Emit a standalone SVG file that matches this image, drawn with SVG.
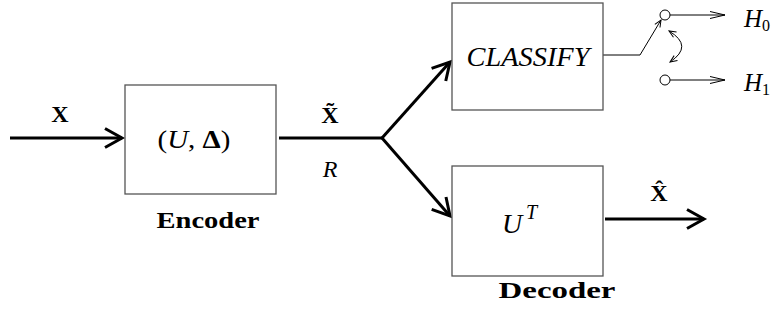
<svg xmlns="http://www.w3.org/2000/svg" width="777" height="320" viewBox="0 0 777 320">
<style>
.box{fill:#fff;stroke:#555;stroke-width:1.3}
.thick{stroke:#000;stroke-width:3;fill:none}
.thin{stroke:#000;stroke-width:1;fill:none}
text{font-family:"Liberation Serif","DejaVu Serif",serif;fill:#000}
.b{font-weight:bold}
.i{font-style:italic}
</style>
<defs>
<marker id="big" markerUnits="userSpaceOnUse" viewBox="-20 -12 24 24" markerWidth="24" markerHeight="24" refX="0" refY="0" orient="auto">
<path d="M-17 -9.5 L0 0 L-17 9.5" fill="none" stroke="#000" stroke-width="3"/>
</marker>
<marker id="long" markerUnits="userSpaceOnUse" viewBox="-18 -6 20 12" markerWidth="20" markerHeight="12" refX="0" refY="0" orient="auto">
<path d="M-15 -3.5 L0 0 L-15 3.5" fill="none" stroke="#000" stroke-width="1"/>
</marker>
<marker id="small" markerUnits="userSpaceOnUse" viewBox="-10 -6 12 12" markerWidth="12" markerHeight="12" refX="0" refY="0" orient="auto-start-reverse">
<path d="M-7 -3 L0 0 L-7 3" fill="none" stroke="#000" stroke-width="1"/>
</marker>
</defs>

<g id="connectors">
<line class="thick" x1="10" y1="138" x2="122" y2="138" marker-end="url(#big)"/>
<polyline class="thick" points="279,138 382,138"/>
<line class="thick" x1="382" y1="138" x2="450" y2="62" marker-end="url(#big)"/>
<line class="thick" x1="382" y1="138" x2="450" y2="216" marker-end="url(#big)"/>
<line class="thick" x1="605" y1="219" x2="704" y2="219" marker-end="url(#big)"/>
<polyline class="thin" points="603,55 640,55 661,20" marker-end="url(#small)"/>
<line class="thin" x1="670" y1="15" x2="725" y2="15" marker-end="url(#long)"/>
<line class="thin" x1="670" y1="80" x2="725" y2="80" marker-end="url(#long)"/>
<path class="thin" d="M669 31 Q694 46 670 62" marker-start="url(#small)" marker-end="url(#small)"/>
</g>

<g id="input-label">
<text class="b" x="60" y="122" font-size="24" text-anchor="middle">X</text>
</g>

<g id="encoder">
<rect class="box" x="125" y="85" width="151" height="109"/>
<text x="194" y="148" font-size="26" text-anchor="middle" textLength="73" lengthAdjust="spacingAndGlyphs">(<tspan class="i">U</tspan>, <tspan class="b">Δ</tspan>)</text>
<text class="b" x="208" y="228" font-size="23" text-anchor="middle" textLength="103" lengthAdjust="spacingAndGlyphs">Encoder</text>
</g>

<g id="channel-labels">
<text class="b" x="330" y="123" font-size="24" text-anchor="middle">X&#771;</text>
<text class="i" x="330" y="177" font-size="24" text-anchor="middle">R</text>
</g>

<g id="classify">
<rect class="box" x="452" y="3" width="151" height="107"/>
<text class="i" x="528" y="66" font-size="27" text-anchor="middle" textLength="123" lengthAdjust="spacingAndGlyphs">CLASSIFY</text>
</g>

<g id="switch">
<circle class="thin" cx="665" cy="15" r="5"/>
<circle class="thin" cx="665" cy="80" r="5"/>
<text class="i" x="744" y="27" font-size="25">H<tspan font-style="normal" font-size="16" dy="4">0</tspan></text>
<text class="i" x="744" y="91" font-size="25">H<tspan font-style="normal" font-size="16" dy="4">1</tspan></text>
</g>

<g id="decoder">
<rect class="box" x="452" y="166" width="151" height="110"/>
<text class="i" x="502" y="233" font-size="28">U</text>
<text class="i" x="526" y="219" font-size="20">T</text>
<text class="b" x="557" y="298" font-size="23" text-anchor="middle" textLength="117" lengthAdjust="spacingAndGlyphs">Decoder</text>
</g>

<g id="output-label">
<text class="b" x="659" y="201" font-size="24" text-anchor="middle">X&#770;</text>
</g>
</svg>
